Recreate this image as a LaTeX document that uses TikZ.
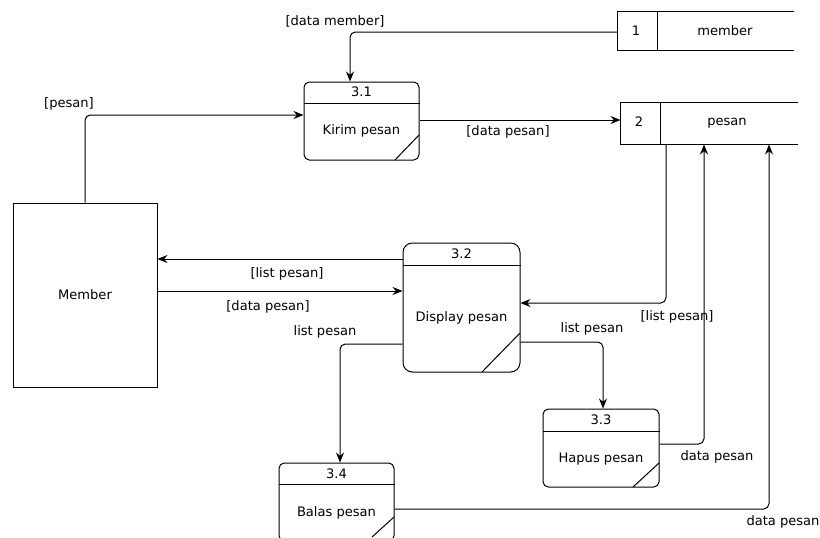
\documentclass[tikz,border=0pt]{standalone}
\usepackage{fontspec}
\setmainfont{DejaVu Sans}
\usetikzlibrary{arrows.meta}
\begin{document}
\begin{tikzpicture}[x=0.75pt,y=-0.75pt,
  line width=0.75pt,
  every node/.style={font=\fontsize{9.8}{12}\selectfont, inner sep=0pt},
  proc/.style={draw, rounded corners=4pt, minimum width=#1},
  proc/.default=86.25pt,
  entity/.style={draw, minimum width=108pt, minimum height=138pt},
  store/.style={minimum height=#1},
  flow/.style={-{Stealth[length=7.5pt,width=6pt,inset=2.5pt]}, rounded corners=4pt},
  lbl/.style={anchor=center}
]
\useasboundingbox (0,0) rectangle (820,537);
\clip (0,0) rectangle (820,537);
\fill[white] (0,0) rectangle (820,537);

% ---------- data stores ----------
\node[store=28.5pt, minimum width=131.25pt] (s1) at (705.5,31) {};
\draw (s1.north east) -- (s1.north west) -- (s1.south west) -- (s1.south east);
\draw (657,12) -- (657,50);
\node at (636,31) {1};
\node at (725,31) {member};

\node[store=30.75pt, minimum width=132pt] (s2) at (709,123.5) {};
\draw (s2.north east) -- (s2.north west) -- (s2.south west) -- (s2.south east);
\draw (660,103) -- (660,144);
\node at (639,122) {2};
\node at (727,123) {pesan};

% ---------- external entity ----------
\node[entity] (mem) at (85,295) {Member};

% ---------- processes ----------
\node[proc=86.25pt, minimum height=58.5pt] (p31) at (361.5,121) {};
\draw (p31.west |- 0,103) -- (p31.east |- 0,103);
\draw (419,135) -- (395,160);
\node at (361.5,92) {3.1};
\node at (361.5,131) {Kirim pesan};

\node[proc=87.75pt, minimum height=96.75pt, rounded corners=7pt] (p32) at (461.5,307.5) {};
\draw (p32.west |- 0,265) -- (p32.east |- 0,265);
\draw (520,333) -- (482,372);
\node at (461.5,254) {3.2};
\node at (461.5,318) {Display pesan};

\node[proc=87pt, minimum height=58.5pt] (p33) at (601,448) {};
\draw (p33.west |- 0,431) -- (p33.east |- 0,431);
\draw (659,463) -- (633,487);
\node at (601,420) {3.3};
\node at (601,459) {Hapus pesan};

\node[proc=86.25pt, minimum height=58.5pt] (p34) at (336.5,502) {};
\draw (p34.west |- 0,484) -- (p34.east |- 0,484);
\draw (394,517) -- (372,537);
\node at (336.5,474) {3.4};
\node at (336.5,513) {Balas pesan};

% ---------- data flows ----------
\draw[flow] (s1.west |- 0,32) -| (p31.north -| 350,0);
\node[lbl] at (335,21) {[data member]};

\draw[flow] (mem.north) |- (p31.west |- 0,115);
\node[lbl] at (69,104) {[pesan]};

\draw[flow] (p31.east |- 0,120) -- (s2.west |- 0,120);
\node[lbl] at (508,132) {[data pesan]};

\draw[flow] (p32.west |- 0,259) -- (mem.east |- 0,259);
\node[lbl] at (287,274) {[list pesan]};

\draw[flow] (mem.east |- 0,291) -- (p32.west |- 0,291);
\node[lbl] at (268,307) {[data pesan]};

\draw[flow] (p32.west |- 0,344) -| (p34.north -| 340,0);
\node[lbl] at (325,332) {list pesan};

\draw[flow] (s2.south -| 666,0) |- (p32.east |- 0,303);
\node[lbl] at (677,317) {[list pesan]};

\draw[flow] (p32.east |- 0,342) -| (p33.north -| 603,0);
\node[lbl] at (592,329) {list pesan};

\draw[flow] (p33.east |- 0,444) -| (s2.south -| 704,0);
\node[lbl] at (717,457) {data pesan};

\draw[flow] (p34.east |- 0,509) -| (s2.south -| 769,0);
\node[lbl] at (783,522) {data pesan};
\end{tikzpicture}
\end{document}
